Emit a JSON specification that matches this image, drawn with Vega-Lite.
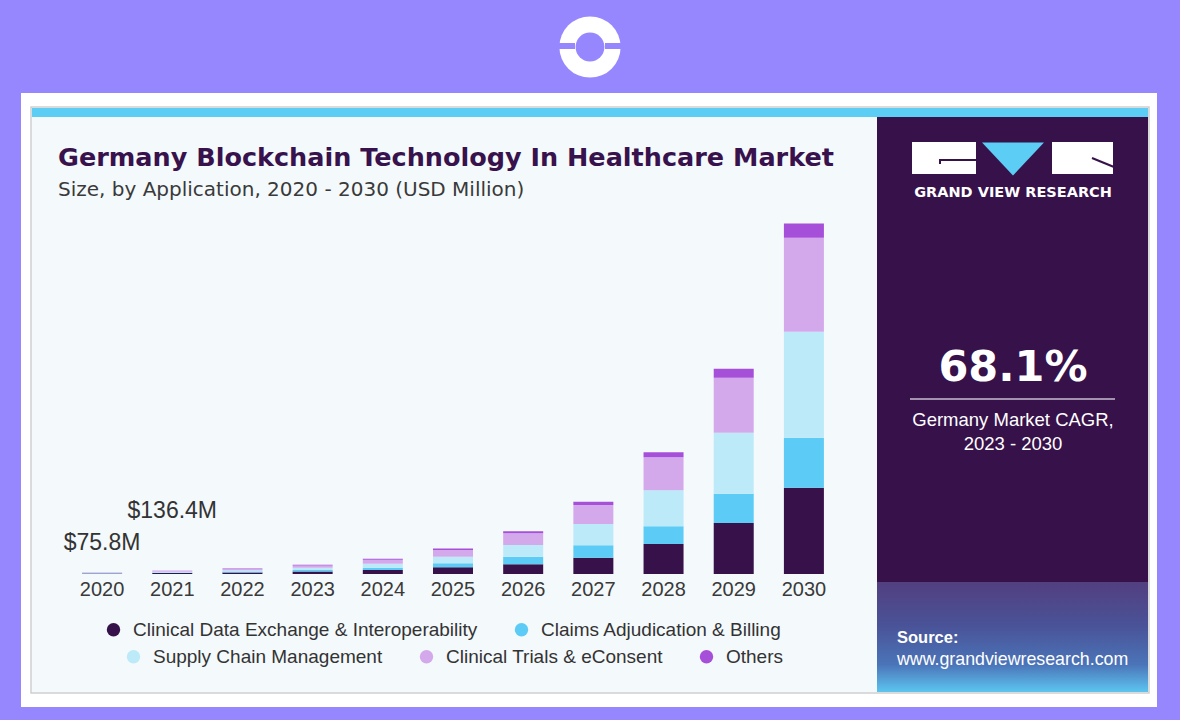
{
  "$schema": "https://vega.github.io/schema/vega-lite/v6.json",
  "width": 772,
  "height": 360,
  "autosize": "none",
  "padding": {"left": 67, "top": 214, "right": 341, "bottom": 146},
  "background": "#9687ff",
  "config": {"view": {"stroke": null}, "font": "Liberation Sans"},
  "datasets": {
    "market": [
      {"year": "2020", "application": "Clinical Data Exchange & Interoperability", "value": 21.5},
      {"year": "2020", "application": "Claims Adjudication & Billing", "value": 11.5},
      {"year": "2020", "application": "Supply Chain Management", "value": 18},
      {"year": "2020", "application": "Clinical Trials & eConsent", "value": 18.8},
      {"year": "2020", "application": "Others", "value": 6},
      {"year": "2021", "application": "Clinical Data Exchange & Interoperability", "value": 38.5},
      {"year": "2021", "application": "Claims Adjudication & Billing", "value": 21},
      {"year": "2021", "application": "Supply Chain Management", "value": 32.5},
      {"year": "2021", "application": "Clinical Trials & eConsent", "value": 34},
      {"year": "2021", "application": "Others", "value": 10.4},
      {"year": "2022", "application": "Clinical Data Exchange & Interoperability", "value": 64},
      {"year": "2022", "application": "Claims Adjudication & Billing", "value": 35},
      {"year": "2022", "application": "Supply Chain Management", "value": 56},
      {"year": "2022", "application": "Clinical Trials & eConsent", "value": 58},
      {"year": "2022", "application": "Others", "value": 17},
      {"year": "2023", "application": "Clinical Data Exchange & Interoperability", "value": 105},
      {"year": "2023", "application": "Claims Adjudication & Billing", "value": 58},
      {"year": "2023", "application": "Supply Chain Management", "value": 95},
      {"year": "2023", "application": "Clinical Trials & eConsent", "value": 100},
      {"year": "2023", "application": "Others", "value": 27},
      {"year": "2024", "application": "Clinical Data Exchange & Interoperability", "value": 170},
      {"year": "2024", "application": "Claims Adjudication & Billing", "value": 95},
      {"year": "2024", "application": "Supply Chain Management", "value": 160},
      {"year": "2024", "application": "Clinical Trials & eConsent", "value": 170},
      {"year": "2024", "application": "Others", "value": 45},
      {"year": "2025", "application": "Clinical Data Exchange & Interoperability", "value": 280},
      {"year": "2025", "application": "Claims Adjudication & Billing", "value": 165},
      {"year": "2025", "application": "Supply Chain Management", "value": 275},
      {"year": "2025", "application": "Clinical Trials & eConsent", "value": 280},
      {"year": "2025", "application": "Others", "value": 60},
      {"year": "2026", "application": "Clinical Data Exchange & Interoperability", "value": 405},
      {"year": "2026", "application": "Claims Adjudication & Billing", "value": 315},
      {"year": "2026", "application": "Supply Chain Management", "value": 490},
      {"year": "2026", "application": "Clinical Trials & eConsent", "value": 490},
      {"year": "2026", "application": "Others", "value": 85},
      {"year": "2027", "application": "Clinical Data Exchange & Interoperability", "value": 680},
      {"year": "2027", "application": "Claims Adjudication & Billing", "value": 515},
      {"year": "2027", "application": "Supply Chain Management", "value": 890},
      {"year": "2027", "application": "Clinical Trials & eConsent", "value": 790},
      {"year": "2027", "application": "Others", "value": 140},
      {"year": "2028", "application": "Clinical Data Exchange & Interoperability", "value": 1250},
      {"year": "2028", "application": "Claims Adjudication & Billing", "value": 735},
      {"year": "2028", "application": "Supply Chain Management", "value": 1500},
      {"year": "2028", "application": "Clinical Trials & eConsent", "value": 1375},
      {"year": "2028", "application": "Others", "value": 210},
      {"year": "2029", "application": "Clinical Data Exchange & Interoperability", "value": 2130},
      {"year": "2029", "application": "Claims Adjudication & Billing", "value": 1210},
      {"year": "2029", "application": "Supply Chain Management", "value": 2545},
      {"year": "2029", "application": "Clinical Trials & eConsent", "value": 2295},
      {"year": "2029", "application": "Others", "value": 375},
      {"year": "2030", "application": "Clinical Data Exchange & Interoperability", "value": 3590},
      {"year": "2030", "application": "Claims Adjudication & Billing", "value": 2085},
      {"year": "2030", "application": "Supply Chain Management", "value": 4420},
      {"year": "2030", "application": "Clinical Trials & eConsent", "value": 3920},
      {"year": "2030", "application": "Others", "value": 585}
    ]
  },
  "layer": [
    {
      "data": {"values": [{}]},
      "mark": {"type": "rect", "fill": "#ffffff"},
      "encoding": {"x": {"value": -46}, "x2": {"value": 1090}, "y": {"value": -121}, "y2": {"value": 493}}
    },
    {
      "data": {"values": [{}]},
      "mark": {"type": "rect", "fill": "#f4f9fc", "stroke": "#cfcfcf", "strokeWidth": 1.5},
      "encoding": {"x": {"value": -36}, "x2": {"value": 1082}, "y": {"value": -107}, "y2": {"value": 479}}
    },
    {
      "data": {"values": [{}]},
      "mark": {"type": "rect", "fill": "#37114a"},
      "encoding": {"x": {"value": 810}, "x2": {"value": 1081}, "y": {"value": -97}, "y2": {"value": 478}}
    },
    {
      "data": {"values": [{}]},
      "mark": {
        "type": "rect",
        "fill": {
          "gradient": "linear", "x1": 0, "y1": 0, "x2": 0, "y2": 1,
          "stops": [
            {"offset": 0, "color": "#523f80"},
            {"offset": 0.4, "color": "#4a5398"},
            {"offset": 0.75, "color": "#4b74b8"},
            {"offset": 1, "color": "#5cc5f0"}
          ]
        }
      },
      "encoding": {"x": {"value": 810}, "x2": {"value": 1081}, "y": {"value": 368}, "y2": {"value": 478}}
    },
    {
      "data": {"values": [{}]},
      "mark": {"type": "rect", "fill": "#5ccdf5"},
      "encoding": {"x": {"value": -35}, "x2": {"value": 1081}, "y": {"value": -106}, "y2": {"value": -97}}
    },
    {
      "data": {"values": [{}]},
      "mark": {"type": "point", "shape": "circle", "filled": true, "fill": "#ffffff", "size": 3750, "opacity": 1},
      "encoding": {"x": {"value": 523}, "y": {"value": -167}}
    },
    {
      "data": {"values": [{}]},
      "mark": {"type": "point", "shape": "circle", "filled": true, "fill": "#9687ff", "size": 830, "opacity": 1},
      "encoding": {"x": {"value": 523}, "y": {"value": -167}}
    },
    {
      "data": {"values": [{}]},
      "mark": {"type": "rect", "fill": "#9687ff"},
      "encoding": {"x": {"value": 485}, "x2": {"value": 508}, "y": {"value": -171}, "y2": {"value": -165}}
    },
    {
      "data": {"values": [{}]},
      "mark": {"type": "rect", "fill": "#9687ff"},
      "encoding": {"x": {"value": 538}, "x2": {"value": 561}, "y": {"value": -171}, "y2": {"value": -165}}
    },
    {
      "data": {"values": [{}]},
      "mark": {"type": "text", "text": "Germany Blockchain Technology In Healthcare Market", "font": "DejaVu Sans", "fontSize": 25.5, "fontWeight": "bold", "color": "#38124c", "align": "left", "baseline": "middle"},
      "encoding": {"x": {"value": -9}, "y": {"value": -56}}
    },
    {
      "data": {"values": [{}]},
      "mark": {"type": "text", "text": "Size, by Application, 2020 - 2030 (USD Million)", "font": "DejaVu Sans", "fontSize": 20, "color": "#3a3a3a", "align": "left", "baseline": "middle"},
      "encoding": {"x": {"value": -9}, "y": {"value": -24}}
    },
    {
      "data": {"values": [{}]},
      "mark": {"type": "rect", "fill": "#ffffff"},
      "encoding": {"x": {"value": 845}, "x2": {"value": 909}, "y": {"value": -72}, "y2": {"value": -40}}
    },
    {
      "data": {"values": [{}]},
      "mark": {"type": "rect", "fill": "#ffffff"},
      "encoding": {"x": {"value": 985}, "x2": {"value": 1046}, "y": {"value": -72}, "y2": {"value": -40}}
    },
    {
      "data": {"values": [{}]},
      "mark": {"type": "point", "shape": "M-1,-0.53L1,-0.53L0,0.53Z", "filled": true, "fill": "#5ccdf5", "size": 3844, "opacity": 1},
      "encoding": {"x": {"value": 946}, "y": {"value": -55}}
    },
    {
      "data": {"values": [{}]},
      "mark": {"type": "rule", "stroke": "#37114a", "strokeWidth": 2},
      "encoding": {"x": {"value": 873}, "x2": {"value": 910}, "y": {"value": -54}, "y2": {"value": -54}}
    },
    {
      "data": {"values": [{}]},
      "mark": {"type": "rule", "stroke": "#37114a", "strokeWidth": 2},
      "encoding": {"x": {"value": 873}, "x2": {"value": 873}, "y": {"value": -55}, "y2": {"value": -50}}
    },
    {
      "data": {"values": [{}]},
      "mark": {"type": "rule", "stroke": "#37114a", "strokeWidth": 2},
      "encoding": {"x": {"value": 1025}, "x2": {"value": 1047}, "y": {"value": -56}, "y2": {"value": -47}}
    },
    {
      "data": {"values": [{}]},
      "mark": {"type": "text", "text": "GRAND VIEW RESEARCH", "font": "DejaVu Sans", "fontSize": 14.5, "fontWeight": "bold", "color": "#ffffff", "align": "center", "baseline": "middle"},
      "encoding": {"x": {"value": 946}, "y": {"value": -21}}
    },
    {
      "data": {"values": [{}]},
      "mark": {"type": "text", "text": "68.1%", "font": "DejaVu Sans", "fontSize": 43, "fontWeight": "bold", "color": "#ffffff", "align": "center", "baseline": "middle"},
      "encoding": {"x": {"value": 946}, "y": {"value": 154}}
    },
    {
      "data": {"values": [{}]},
      "mark": {"type": "rule", "stroke": "#c9bcd3", "strokeWidth": 1.5},
      "encoding": {"x": {"value": 843}, "x2": {"value": 1048}, "y": {"value": 185}, "y2": {"value": 185}}
    },
    {
      "data": {"values": [{}]},
      "mark": {"type": "text", "text": "Germany Market CAGR,", "font": "Liberation Sans", "fontSize": 18.5, "color": "#ffffff", "align": "center", "baseline": "middle"},
      "encoding": {"x": {"value": 946}, "y": {"value": 206}}
    },
    {
      "data": {"values": [{}]},
      "mark": {"type": "text", "text": "2023 - 2030", "font": "Liberation Sans", "fontSize": 18.5, "color": "#ffffff", "align": "center", "baseline": "middle"},
      "encoding": {"x": {"value": 946}, "y": {"value": 230}}
    },
    {
      "data": {"values": [{}]},
      "mark": {"type": "text", "text": "Source:", "font": "Liberation Sans", "fontSize": 16.5, "fontWeight": "bold", "color": "#ffffff", "align": "left", "baseline": "middle"},
      "encoding": {"x": {"value": 830}, "y": {"value": 424}}
    },
    {
      "data": {"values": [{}]},
      "mark": {"type": "text", "text": "www.grandviewresearch.com", "font": "Liberation Sans", "fontSize": 17.8, "color": "#ffffff", "align": "left", "baseline": "middle"},
      "encoding": {"x": {"value": 830}, "y": {"value": 446}}
    },
    {
      "data": {"name": "market"},
      "transform": [
        {"calculate": "indexof(['Clinical Data Exchange & Interoperability', 'Claims Adjudication & Billing', 'Supply Chain Management', 'Clinical Trials & eConsent', 'Others'], datum.application)", "as": "order"},
        {"stack": "value", "groupby": ["year"], "sort": [{"field": "order", "order": "ascending"}], "as": ["y0", "y1"]},
        {"filter": "datum.order < 2"}
      ],
      "mark": {"type": "bar"},
      "encoding": {
        "x": {
          "field": "year", "type": "ordinal",
          "scale": {"paddingInner": 0.43, "paddingOuter": 0.215},
          "axis": {"title": null, "domain": false, "ticks": false, "labelAngle": 0, "labelFont": "Liberation Sans", "labelFontSize": 20, "labelColor": "#3a3a3a", "labelPadding": 5, "zindex": 1}
        },
        "y": {"field": "y0", "type": "quantitative", "scale": {"domain": [0, 15000], "nice": false}, "axis": null},
        "y2": {"field": "y1"},
        "color": {
          "field": "application", "type": "nominal",
          "scale": {"domain": ["Clinical Data Exchange & Interoperability", "Claims Adjudication & Billing"], "range": ["#37114a", "#5ccbf5"]},
          "legend": {"orient": "none", "legendX": 37, "legendY": 406, "direction": "horizontal", "title": null, "symbolType": "circle", "symbolSize": 180, "symbolStrokeWidth": 0, "labelFont": "Liberation Sans", "labelFontSize": 19, "labelColor": "#333333", "labelLimit": 600, "labelOffset": 10, "columnPadding": 34, "zindex": 1}
        }
      }
    },
    {
      "data": {"name": "market"},
      "transform": [
        {"calculate": "indexof(['Clinical Data Exchange & Interoperability', 'Claims Adjudication & Billing', 'Supply Chain Management', 'Clinical Trials & eConsent', 'Others'], datum.application)", "as": "order"},
        {"stack": "value", "groupby": ["year"], "sort": [{"field": "order", "order": "ascending"}], "as": ["y0", "y1"]},
        {"filter": "datum.order >= 2"}
      ],
      "mark": {"type": "bar"},
      "encoding": {
        "x": {
          "field": "year", "type": "ordinal",
          "scale": {"paddingInner": 0.43, "paddingOuter": 0.215},
          "axis": {"title": null, "domain": false, "ticks": false, "labelAngle": 0, "labelFont": "Liberation Sans", "labelFontSize": 20, "labelColor": "#3a3a3a", "labelPadding": 5, "zindex": 1}
        },
        "y": {"field": "y0", "type": "quantitative", "scale": {"domain": [0, 15000], "nice": false}, "axis": null},
        "y2": {"field": "y1"},
        "color": {
          "field": "application", "type": "nominal",
          "scale": {"domain": ["Supply Chain Management", "Clinical Trials & eConsent", "Others"], "range": ["#bdeaf9", "#d4a9ec", "#a64fd8"]},
          "legend": {"orient": "none", "legendX": 57, "legendY": 433, "direction": "horizontal", "title": null, "symbolType": "circle", "symbolSize": 180, "symbolStrokeWidth": 0, "labelFont": "Liberation Sans", "labelFontSize": 19, "labelColor": "#333333", "labelLimit": 600, "labelOffset": 10, "columnPadding": 34, "zindex": 1}
        }
      }
    },
    {
      "data": {"name": "market"},
      "transform": [
        {"aggregate": [{"op": "sum", "field": "value", "as": "total"}], "groupby": ["year"]},
        {"filter": "datum.year == '2020'"},
        {"calculate": "'$' + format(datum.total, '.1f') + 'M'", "as": "label"}
      ],
      "mark": {"type": "text", "font": "Liberation Sans", "fontSize": 23, "color": "#333333", "baseline": "middle", "dy": -29},
      "encoding": {
        "x": {"field": "year", "type": "ordinal"},
        "y": {"field": "total", "type": "quantitative", "scale": {"domain": [0, 15000], "nice": false}},
        "text": {"field": "label"}
      }
    },
    {
      "data": {"name": "market"},
      "transform": [
        {"aggregate": [{"op": "sum", "field": "value", "as": "total"}], "groupby": ["year"]},
        {"filter": "datum.year == '2021'"},
        {"calculate": "'$' + format(datum.total, '.1f') + 'M'", "as": "label"}
      ],
      "mark": {"type": "text", "font": "Liberation Sans", "fontSize": 23, "color": "#333333", "baseline": "middle", "dy": -60},
      "encoding": {
        "x": {"field": "year", "type": "ordinal"},
        "y": {"field": "total", "type": "quantitative", "scale": {"domain": [0, 15000], "nice": false}},
        "text": {"field": "label"}
      }
    }
  ],
  "resolve": {"scale": {"color": "independent"}}
}
